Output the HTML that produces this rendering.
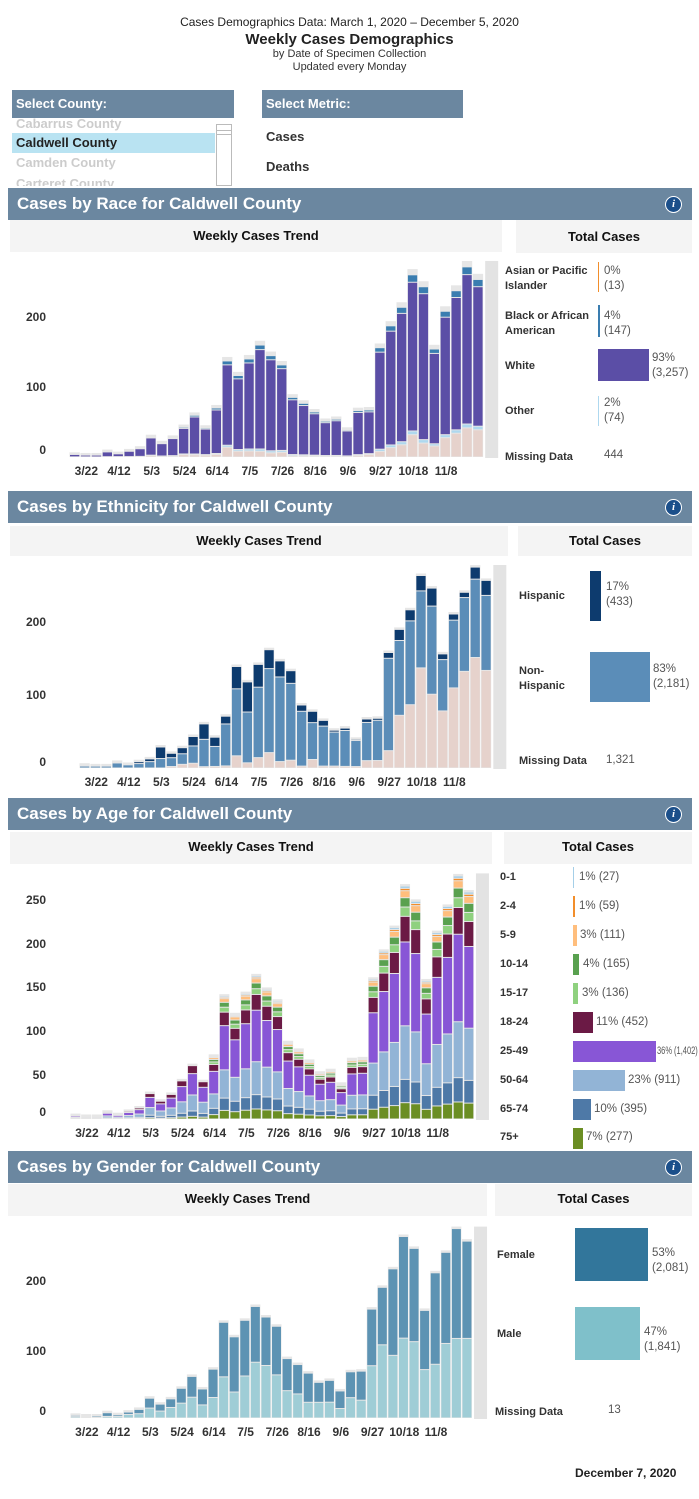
<!DOCTYPE html>
<html><head><meta charset="utf-8">
<style>
body{margin:0;background:#fff;font-family:"Liberation Sans",Arial,sans-serif;}
#p{position:relative;width:699px;height:1499px;overflow:hidden;}
.a{position:absolute;white-space:nowrap;}
.c{text-align:center;}
.b{font-weight:bold;}
.hdr{position:absolute;left:8px;width:684px;height:30px;background:#6b87a0;color:#fff;font-weight:bold;font-size:17px;line-height:30px;padding-left:9px;box-sizing:border-box;}
.info{position:absolute;right:10px;top:7px;width:15px;height:15px;border-radius:50%;background:#1b4f8a;color:#fff;font-size:11px;line-height:15px;text-align:center;font-style:italic;font-weight:bold;font-family:"Liberation Serif",serif;border:1px solid #fff;}
.sub{position:absolute;background:#f4f4f4;font-weight:bold;font-size:13px;text-align:center;color:#111;}
.yl{position:absolute;font-weight:bold;font-size:12px;color:#333;width:30px;text-align:right;}
.xl{position:absolute;font-weight:bold;font-size:12px;color:#333;transform:translateX(-50%);white-space:nowrap;}
.lab{position:absolute;font-weight:bold;font-size:11px;color:#333;line-height:15px;white-space:nowrap;}
.val{position:absolute;font-size:11.5px;color:#555;line-height:15px;white-space:nowrap;}
svg{position:absolute;left:0;top:0;}
</style></head><body><div id="p">
<svg id="s" width="699" height="1499"></svg>
<div class="a c" style="left:0;width:699px;top:15px;font-size:12px;color:#222">Cases Demographics Data: March 1, 2020 – December 5, 2020</div>
<div class="a c b" style="left:0;width:699px;top:31px;font-size:15px;color:#222">Weekly Cases Demographics</div>
<div class="a c" style="left:0;width:699px;top:48px;font-size:11px;color:#333">by Date of Specimen Collection</div>
<div class="a c" style="left:0;width:699px;top:61px;font-size:11px;color:#333">Updated every Monday</div>

<div class="a b" style="left:12px;top:90px;width:222px;height:28px;background:#6b87a0;color:#fff;font-size:13px;line-height:28px;padding-left:4px;box-sizing:border-box">Select County:</div>
<div class="a" style="left:12px;top:118px;width:222px;height:68px;overflow:hidden">
<div class="a b" style="left:4px;top:-2px;font-size:13px;color:#ccc">Cabarrus County</div>
<div class="a b" style="left:0;top:15px;width:203px;height:20px;background:#b9e3f2;font-size:13px;line-height:20px;padding-left:4px;box-sizing:border-box;color:#222">Caldwell County</div>
<div class="a b" style="left:4px;top:37px;font-size:13px;color:#ccc">Camden County</div>
<div class="a b" style="left:4px;top:58px;font-size:13px;color:#ccc">Carteret County</div>
<div class="a" style="left:204px;top:6px;width:16px;height:62px;border:1px solid #bbb;box-sizing:border-box"></div>
<div class="a" style="left:204px;top:12px;width:16px;height:3px;border-top:1px solid #bbb;border-bottom:1px solid #bbb"></div>
</div>
<div class="a b" style="left:262px;top:90px;width:201px;height:28px;background:#6b87a0;color:#fff;font-size:13px;line-height:28px;padding-left:4px;box-sizing:border-box">Select Metric:</div>
<div class="a b" style="left:266px;top:129px;font-size:13px;color:#333">Cases</div>
<div class="a b" style="left:266px;top:159px;font-size:13px;color:#333">Deaths</div>

<!-- RACE -->
<div class="hdr" style="top:188px;height:32px;line-height:32px">Cases by Race for Caldwell County<div class="info" style="top:8px">i</div></div>
<div class="sub" style="left:10px;top:220px;width:492px;height:32px;line-height:32px">Weekly Cases Trend</div>
<div class="sub" style="left:516px;top:220px;width:176px;height:33px;line-height:33px">Total Cases</div>
<div class="yl" style="left:16px;top:310px">200</div>
<div class="yl" style="left:16px;top:380px">100</div>
<div class="yl" style="left:16px;top:443px">0</div>
<div class="lab" style="left:505px;top:264px">Asian or Pacific<br>Islander</div>
<div class="val" style="left:604px;top:264px">0%<br>(13)</div>
<div class="lab" style="left:505px;top:309px">Black or African<br>American</div>
<div class="val" style="left:604px;top:309px">4%<br>(147)</div>
<div class="lab" style="left:505px;top:359px">White</div>
<div class="val" style="left:652px;top:351px">93%<br>(3,257)</div>
<div class="lab" style="left:505px;top:404px">Other</div>
<div class="val" style="left:604px;top:396px">2%<br>(74)</div>
<div class="lab" style="left:505px;top:450px">Missing Data</div>
<div class="val" style="left:604px;top:448px">444</div>

<!-- ETHNICITY -->
<div class="hdr" style="top:491px;height:32px;line-height:32px">Cases by Ethnicity for Caldwell County<div class="info" style="top:8px">i</div></div>
<div class="sub" style="left:10px;top:526px;width:498px;height:30px;line-height:30px">Weekly Cases Trend</div>
<div class="sub" style="left:518px;top:526px;width:174px;height:30px;line-height:30px">Total Cases</div>
<div class="yl" style="left:16px;top:615px">200</div>
<div class="yl" style="left:16px;top:688px">100</div>
<div class="yl" style="left:16px;top:755px">0</div>
<div class="lab" style="left:519px;top:589px">Hispanic</div>
<div class="val" style="left:606px;top:580px">17%<br>(433)</div>
<div class="lab" style="left:519px;top:664px">Non-<br>Hispanic</div>
<div class="val" style="left:653px;top:662px">83%<br>(2,181)</div>
<div class="lab" style="left:519px;top:754px">Missing Data</div>
<div class="val" style="left:606px;top:753px">1,321</div>

<!-- AGE -->
<div class="hdr" style="top:798px;height:32px;line-height:32px">Cases by Age for Caldwell County<div class="info" style="top:8px">i</div></div>
<div class="sub" style="left:10px;top:832px;width:482px;height:32px;line-height:30px">Weekly Cases Trend</div>
<div class="sub" style="left:504px;top:832px;width:188px;height:32px;line-height:30px">Total Cases</div>
<div class="yl" style="left:16px;top:893px">250</div>
<div class="yl" style="left:16px;top:937px">200</div>
<div class="yl" style="left:16px;top:980px">150</div>
<div class="yl" style="left:16px;top:1024px">100</div>
<div class="yl" style="left:16px;top:1068px">50</div>
<div class="yl" style="left:16px;top:1105px">0</div>

<!-- GENDER -->
<div class="hdr" style="top:1151px;height:32px;line-height:32px">Cases by Gender for Caldwell County<div class="info" style="top:8px">i</div></div>
<div class="sub" style="left:8px;top:1184px;width:479px;height:32px;line-height:30px">Weekly Cases Trend</div>
<div class="sub" style="left:495px;top:1184px;width:197px;height:32px;line-height:30px">Total Cases</div>
<div class="yl" style="left:16px;top:1274px">200</div>
<div class="yl" style="left:16px;top:1344px">100</div>
<div class="yl" style="left:16px;top:1404px">0</div>
<div class="lab" style="left:497px;top:1248px">Female</div>
<div class="val" style="left:652px;top:1246px">53%<br>(2,081)</div>
<div class="lab" style="left:497px;top:1327px">Male</div>
<div class="val" style="left:644px;top:1325px">47%<br>(1,841)</div>
<div class="lab" style="left:495px;top:1405px">Missing Data</div>
<div class="val" style="left:608px;top:1403px">13</div>

<div class="a b" style="left:575px;top:1466px;font-size:12px;color:#222">December 7, 2020</div>

<div class="xs" data-x0="70" data-p="10.9" data-y="464"><div class="xl">3/22</div><div class="xl">4/12</div><div class="xl">5/3</div><div class="xl">5/24</div><div class="xl">6/14</div><div class="xl">7/5</div><div class="xl">7/26</div><div class="xl">8/16</div><div class="xl">9/6</div><div class="xl">9/27</div><div class="xl">10/18</div><div class="xl">11/8</div></div>
<div class="xs" data-x0="80" data-p="10.85" data-y="775"><div class="xl">3/22</div><div class="xl">4/12</div><div class="xl">5/3</div><div class="xl">5/24</div><div class="xl">6/14</div><div class="xl">7/5</div><div class="xl">7/26</div><div class="xl">8/16</div><div class="xl">9/6</div><div class="xl">9/27</div><div class="xl">10/18</div><div class="xl">11/8</div></div>
<div class="xs" data-x0="71" data-p="10.63" data-y="1126"><div class="xl">3/22</div><div class="xl">4/12</div><div class="xl">5/3</div><div class="xl">5/24</div><div class="xl">6/14</div><div class="xl">7/5</div><div class="xl">7/26</div><div class="xl">8/16</div><div class="xl">9/6</div><div class="xl">9/27</div><div class="xl">10/18</div><div class="xl">11/8</div></div>
<div class="xs" data-x0="71" data-p="10.58" data-y="1425"><div class="xl">3/22</div><div class="xl">4/12</div><div class="xl">5/3</div><div class="xl">5/24</div><div class="xl">6/14</div><div class="xl">7/5</div><div class="xl">7/26</div><div class="xl">8/16</div><div class="xl">9/6</div><div class="xl">9/27</div><div class="xl">10/18</div><div class="xl">11/8</div></div>

<div class="lab" style="left:500px;top:870px">0-1</div><div class="val" style="left:579px;top:870px">1% (27)</div>
<div class="lab" style="left:500px;top:899px">2-4</div><div class="val" style="left:579px;top:899px">1% (59)</div>
<div class="lab" style="left:500px;top:928px">5-9</div><div class="val" style="left:580px;top:928px">3% (111)</div>
<div class="lab" style="left:500px;top:957px">10-14</div><div class="val" style="left:583px;top:957px">4% (165)</div>
<div class="lab" style="left:500px;top:986px">15-17</div><div class="val" style="left:582px;top:986px">3% (136)</div>
<div class="lab" style="left:500px;top:1015px">18-24</div><div class="val" style="left:596px;top:1015px">11% (452)</div>
<div class="lab" style="left:500px;top:1044px">25-49</div><div class="val" style="left:657px;top:1044px;font-size:11px;transform:scaleX(0.68);transform-origin:left center">36% (1,402)</div>
<div class="lab" style="left:500px;top:1073px">50-64</div><div class="val" style="left:628px;top:1073px">23% (911)</div>
<div class="lab" style="left:500px;top:1102px">65-74</div><div class="val" style="left:594px;top:1102px">10% (395)</div>
<div class="lab" style="left:500px;top:1130px">75+</div><div class="val" style="left:586px;top:1130px">7% (277)</div>
</div>
<script>
const NS="http://www.w3.org/2000/svg",S=document.getElementById('s');
function R(x,y,w,h,f){if(h<=0)return;const r=document.createElementNS(NS,'rect');r.setAttribute('x',x);r.setAttribute('y',y);r.setAttribute('width',w);r.setAttribute('height',h);r.setAttribute('fill',f);S.appendChild(r);}
const T=[4,3,3,8,5,9,13,30,21,29,45,63,44,74,145,123,148,169,153,139,90,81,68,54,57,41,70,71,165,198,226,275,257,163,220,251,287,268];
const N=T.length;
function chart(x0,p,base,scale,segs){
  const w=p-1.6;
  R(x0+N*p+1,base-scale*290,13,scale*290+1,'#e3e3e3');
  for(let i=0;i<N;i++){
    const x=x0+i*p,tot=T[i]*scale;
    R(x-0.5,base-tot-2,w+1,tot+2,'#e6e6e6');
    let y=base;const sg=segs(i);
    for(const [f,c] of sg){const h=tot*f;R(x,y-h+0.5,w,h-1,c);y-=h;}
  }
}
const missR=i=>i<28?[0.03,0.05,0.02,0.04,0.1,0.05,0.05,0.07,0.05,0.05,0.08,0.05,0.06,0.05,0.1,0.07,0.06,0.05,0.04,0.05,0.02,0.02,0.02,0.02,0.02,0.02,0.03,0.05][i]:[0.05,0.07,0.08,0.12,0.08,0.1,0.13,0.14,0.15,0.15][i-28];
chart(70,10.9,457,0.676,i=>{const m=missR(i);return[[m,'#e6d2cc'],[0.02,'#aed8ef'],[0.92-m,'#5b4ea6'],[0.04,'#3a7db0'],[0.02,'#e6e6e6']]});
const missE=[0,0,0,0,0,0,0,0,0.1,0.18,0.15,0.03,0.05,0.04,0.12,0.06,0.1,0.13,0.06,0.08,0.03,0.15,0.04,0.05,0.04,0.05,0.15,0.15,0.15,0.38,0.4,0.52,0.41,0.5,0.52,0.55,0.55,0.52];
const hisE=[0.3,0.1,0.1,0.1,0.1,0.3,0.3,0.55,0.3,0.3,0.3,0.35,0.3,0.15,0.22,0.35,0.22,0.16,0.15,0.13,0.1,0.2,0.12,0.05,0.06,0.04,0.07,0.04,0.05,0.08,0.07,0.08,0.1,0.05,0.04,0.03,0.06,0.08];
chart(80,10.85,768,0.70,i=>[[missE[i],'#e6d2cc'],[1-missE[i]-hisE[i],'#5b8db8'],[hisE[i],'#0d3b6e']]);
const mal=i=>[0.5,0.5,0.3,0.3,0.5,0.6,0.5,0.5,0.5,0.55,0.5,0.5,0.45,0.42,0.43,0.32,0.43,0.5,0.52,0.47,0.46,0.45,0.35,0.44,0.42,0.35,0.44,0.38,0.48,0.56,0.42,0.44,0.45,0.45,0.37,0.45,0.42,0.45][i];
chart(71,10.58,1418,0.66,i=>[[mal(i),'#9fcdd6'],[1-mal(i),'#5d93b3']]);
chart(71,10.63,1119,0.847,i=>{
  const g=i>=13;
  return g?[[0.07,'#6b8e23'],[0.1,'#4e79a7'],[0.23,'#92b4d6'],[0.36,'#8856d6'],[0.11,'#6b1a45'],[0.04,'#8fd17f'],[0.04,'#59a14f'],[0.03,'#ffbe7d'],[0.01,'#f28e2b'],[0.01,'#a5cfe8']]
   :[[0.05,'#6b8e23'],[0.1,'#4e79a7'],[0.3,'#92b4d6'],[0.4,'#8856d6'],[0.15,'#6b1a45']]});
const ab=[[1,'#a5cfe8'],[2,'#f28e2b'],[4,'#ffbe7d'],[6,'#59a14f'],[5,'#8fd17f'],[20,'#6b1a45'],[83,'#8856d6'],[52,'#92b4d6'],[18,'#4e79a7'],[10,'#6b8e23']];
ab.forEach((b,k)=>R(573,867+k*29,b[0],21,b[1]));
R(598,262,1,30,'#f28e2b');R(598,305,2,32,'#3a7db0');R(598,349,51,32,'#5b4ea6');R(598,396,1,30,'#aed8ef');
R(590,571,11,50,'#0d3b6e');R(590,652,60,50,'#5b8db8');
R(575,1228,73,53,'#32769b');R(575,1307,65,53,'#7fc0ca');
document.querySelectorAll('.xs').forEach(d=>{const x0=+d.dataset.x0,p=+d.dataset.p,y=+d.dataset.y;
  [...d.children].forEach((c,k)=>{c.style.left=(x0+p*(1.5+3*k))+'px';c.style.top=y+'px';});});
</script>
</body></html>
